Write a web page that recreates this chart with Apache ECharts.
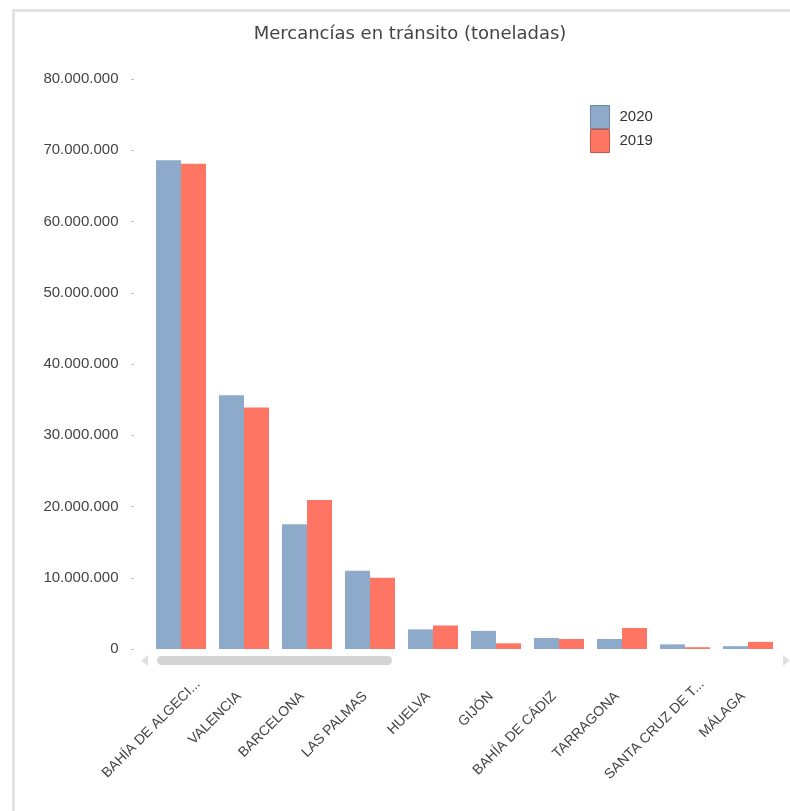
<!DOCTYPE html>
<html>
<head>
<meta charset="utf-8">
<script src="https://cdn.jsdelivr.net/npm/echarts@6/dist/echarts.min.js"></script>
<style>
html,body{margin:0;padding:0;background:#fff;}
#chart{width:790px;height:811px;}
</style>
</head>
<body>
<div id="chart"></div>
<script>
const categories = ['BAHÍA DE ALGECI...', 'VALENCIA', 'BARCELONA', 'LAS PALMAS', 'HUELVA', 'GIJÓN', 'BAHÍA DE CÁDIZ', 'TARRAGONA', 'SANTA CRUZ DE T...', 'MÁLAGA'];
const values2020 = [68600000, 35600000, 17500000, 11000000, 2750000, 2550000, 1550000, 1400000, 650000, 400000];
const values2019 = [68100000, 33900000, 20900000, 10000000, 3300000, 800000, 1400000, 2950000, 250000, 1000000];
const yTicks = { min: 0, max: 80000000, interval: 10000000 };

function fmt(v) {
  return String(Math.round(v)).replace(/\B(?=(\d{3})+(?!\d))/g, '.');
}

// truncated labels overflow their slot in the original rendering
const xData = categories.map(function (c) {
  return c.endsWith('...') ? { value: c, textStyle: { padding: [0, -24, 0, 0] } } : c;
});

const chart = echarts.init(document.getElementById('chart'), null, { renderer: 'canvas' });
chart.setOption({
  animation: false,
  backgroundColor: '#ffffff',
  title: {
    text: 'Mercancías en tránsito (toneladas)',
    left: 405, top: 20, textAlign: 'center',
    textStyle: { fontFamily: 'DejaVu Sans', fontSize: 18, fontWeight: 'normal', color: '#444' }
  },
  legend: {
    orient: 'vertical', left: 590, top: 105, padding: 0,
    itemWidth: 19, itemHeight: 23, itemGap: 0,
    icon: 'rect',
    textStyle: { fontFamily: 'Liberation Sans', fontSize: 15, color: '#333', padding: [0, 0, 0, 5] },
    data: [
      { name: '2020', itemStyle: { borderColor: '#6f87a6', borderWidth: 1 } },
      { name: '2019', itemStyle: { borderColor: '#c8574a', borderWidth: 1 } }
    ]
  },
  grid: { left: 149.5, right: 10.5, top: 79, bottom: 162, containLabel: false },
  xAxis: {
    type: 'category',
    data: xData,
    axisLine: { show: false },
    axisTick: { show: false },
    axisLabel: {
      rotate: 45, margin: 50, interval: 0, verticalAlign: 'bottom',
      fontFamily: 'Liberation Sans', fontSize: 14, color: '#444'
    }
  },
  yAxis: {
    type: 'value',
    min: yTicks.min, max: yTicks.max, interval: yTicks.interval,
    offset: 16,
    axisLine: { show: false },
    axisTick: { show: true, length: 2, lineStyle: { color: '#aaa' } },
    splitLine: { show: false },
    axisLabel: {
      margin: 15, formatter: fmt,
      fontFamily: 'Liberation Sans', fontSize: 15, color: '#444'
    }
  },
  series: [
    { name: '2020', type: 'bar', data: values2020, barGap: '0%', barCategoryGap: '20.6%',
      itemStyle: { color: '#8eaacb' } },
    { name: '2019', type: 'bar', data: values2019, barGap: '0%', barCategoryGap: '20.6%',
      itemStyle: { color: '#ff7563' } }
  ],
  graphic: [
    { type: 'rect', shape: { x: 12, y: 9, width: 778, height: 3 }, style: { fill: '#e2e2e2' }, silent: true },
    { type: 'rect', shape: { x: 12, y: 9, width: 3, height: 802 }, style: { fill: '#e2e2e2' }, silent: true },
    { type: 'rect', shape: { x: 157, y: 656, width: 235, height: 9, r: 4.5 }, style: { fill: '#d4d4d4' }, silent: true },
    { type: 'polygon', shape: { points: [[141, 660.5], [148, 655], [148, 666]] }, style: { fill: '#e0e0e0' }, silent: true },
    { type: 'polygon', shape: { points: [[790, 660.5], [783, 655], [783, 666]] }, style: { fill: '#e0e0e0' }, silent: true }
  ]
});
</script>
</body>
</html>
